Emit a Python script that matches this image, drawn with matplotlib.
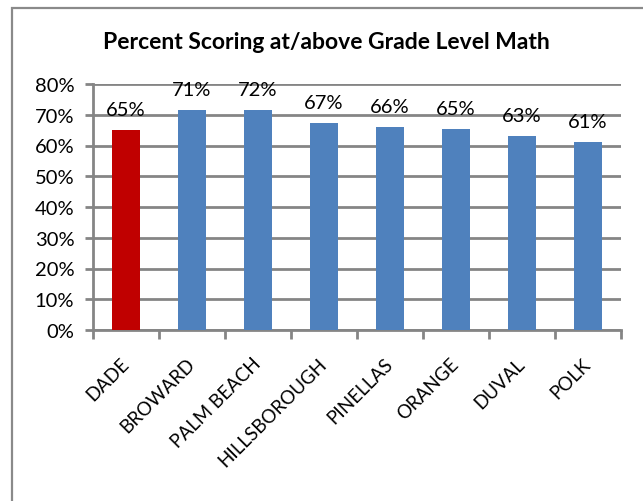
"""Percent scoring at/above grade level in math, by county."""
import matplotlib

matplotlib.use("Agg")
from matplotlib import pyplot as plt
from matplotlib.patches import Rectangle
from matplotlib.ticker import MultipleLocator, PercentFormatter
from matplotlib.transforms import ScaledTranslation

counties = [
    "DADE",
    "BROWARD",
    "PALM BEACH",
    "HILLSBOROUGH",
    "PINELLAS",
    "ORANGE",
    "DUVAL",
    "POLK",
]
# percent scoring at/above grade level
math_pct = [65.0, 71.4, 71.6, 67.2, 66.0, 65.3, 63.0, 61.0]
bar_colors = ["#C00000"] + ["#4F81BD"] * 7

GRID = "#858585"
FONT = ["Lato", "DejaVu Sans"]

plt.rcParams["font.family"] = FONT


def plot_scores() -> None:
    """Draw the bar chart and save it."""
    fig = plt.figure(figsize=(6.43, 5.02), dpi=100)
    ax = fig.add_axes([93 / 643, 1 - 331 / 502, (621 - 93) / 643, 246 / 502])

    x = range(len(counties))
    bars = ax.bar(x, math_pct, width=0.41, color=bar_colors, zorder=3)

    # value labels above bars
    for bar, val in zip(bars, math_pct):
        ax.annotate(
            f"{round(val):.0f}%",
            xy=(bar.get_x() + bar.get_width() / 2, bar.get_height()),
            xytext=(0, 15),
            textcoords="offset pixels",
            ha="center",
            va="baseline",
            fontsize=14.5,
            color="black",
        )

    ax.set_xlim(-0.5, len(counties) - 0.5)
    ax.set_ylim(0, 80)
    ax.yaxis.set_major_locator(MultipleLocator(10))
    ax.yaxis.set_major_formatter(PercentFormatter(decimals=0))
    ax.grid(axis="y", color=GRID, linewidth=2.0, zorder=0)

    for side in ("top", "right"):
        ax.spines[side].set_visible(False)
    for side in ("left", "bottom"):
        ax.spines[side].set_color(GRID)
        ax.spines[side].set_linewidth(2.0)

    # ticks between categories, labels at the centres
    ax.set_xticks([k - 0.5 for k in range(len(counties) + 1)])
    ax.set_xticklabels([])
    ax.set_xticks(list(x), minor=True)
    ax.set_xticklabels(counties, minor=True, rotation=45, ha="right",
                       va="center", rotation_mode="anchor", fontsize=13.5)
    shift = ScaledTranslation(8 / 100, 0, fig.dpi_scale_trans)
    for lbl in ax.get_xticklabels(minor=True):
        lbl.set_transform(lbl.get_transform() + shift)
    ax.tick_params(axis="x", which="major", length=6.5, width=2.0, color=GRID)
    ax.tick_params(axis="x", which="minor", length=0, pad=22)
    ax.tick_params(axis="y", length=5.5, width=2.0, color=GRID, pad=8,
                   labelsize=14.5)

    # chart title and outer frame
    fig.text(326 / 643, 1 - 49 / 502,
             "Percent Scoring at/above Grade Level Math",
             ha="center", va="baseline", fontsize=16.5, fontweight="bold")
    fig.patches.append(
        Rectangle((12 / 643, -0.1), 1.2, 1 - 9 / 502 + 0.1,
                  transform=fig.transFigure, fill=False,
                  edgecolor="#8a8a8a", linewidth=1.6)
    )

    fig.savefig("out.png", dpi=100)


if __name__ == "__main__":
    plot_scores()
